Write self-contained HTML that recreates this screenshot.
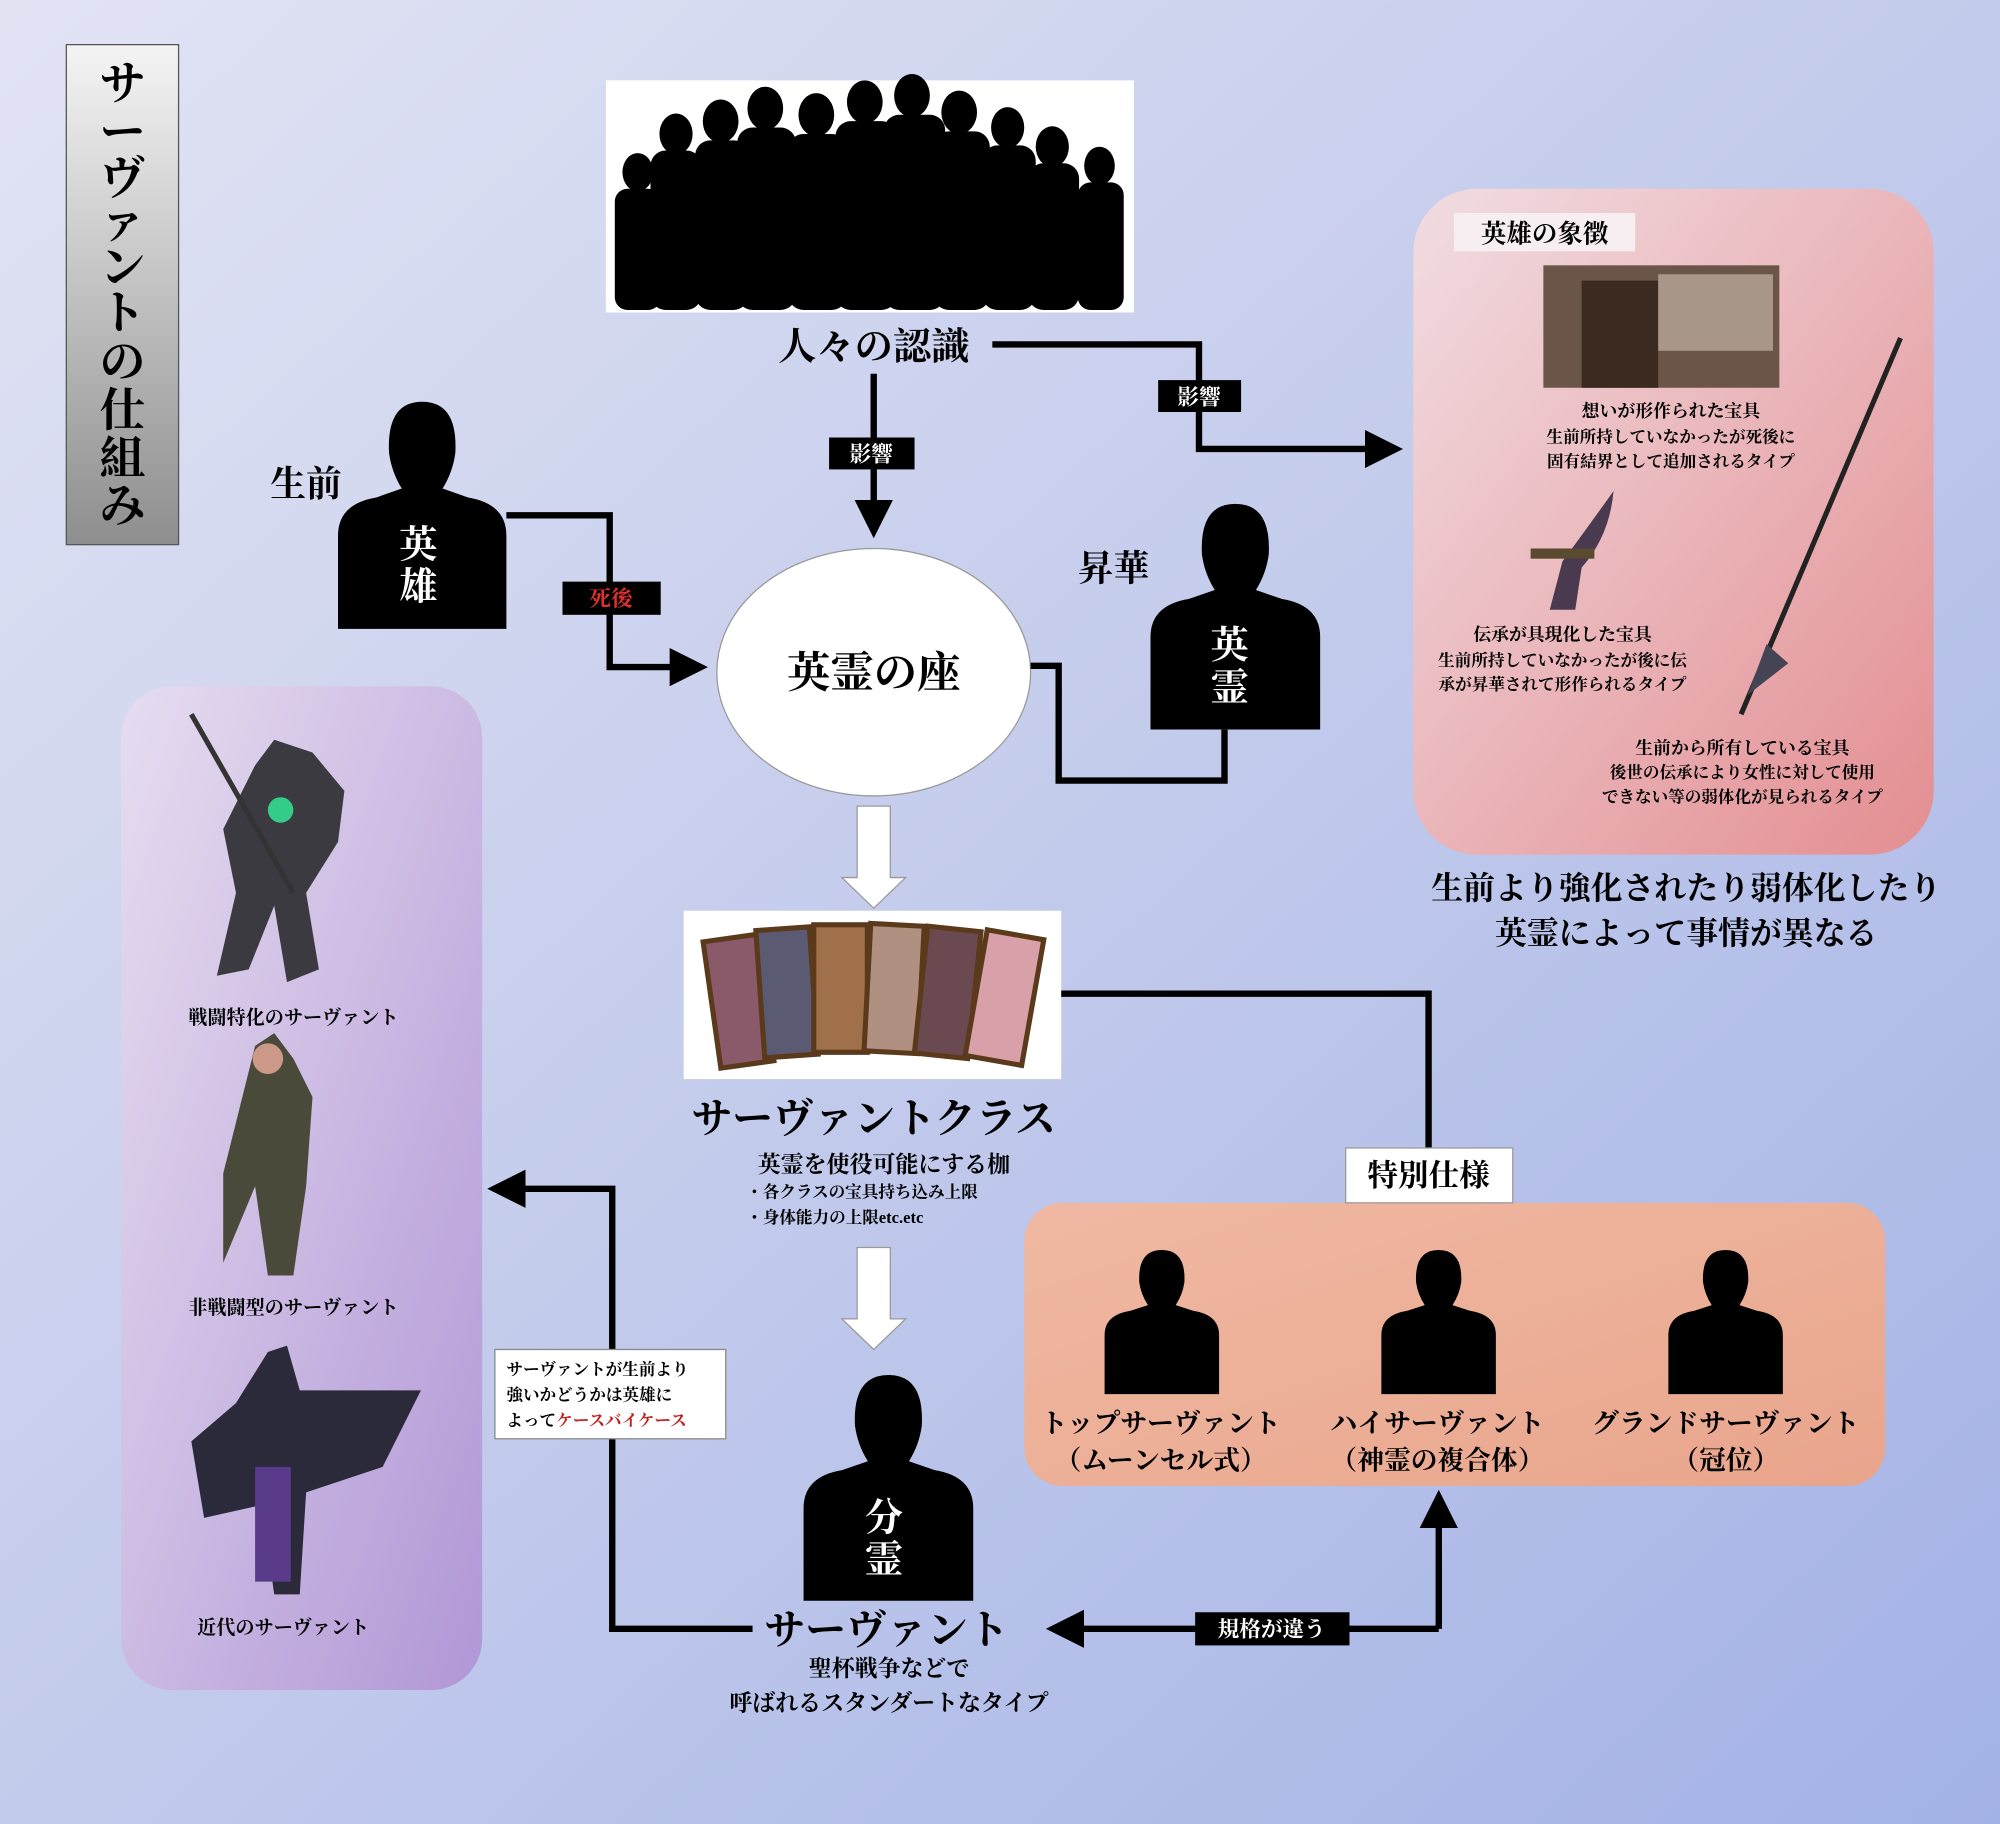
<!DOCTYPE html>
<html><head><meta charset="utf-8"><style>
html,body{margin:0;padding:0;width:2000px;height:1824px;overflow:hidden}
svg{display:block}
text{font-family:"Liberation Serif","Noto Serif CJK SC","Noto Sans CJK JP",serif;font-weight:bold}
</style></head><body>
<svg width="2000" height="1824" viewBox="0 0 1568 1430" xmlns="http://www.w3.org/2000/svg">
<defs>
<linearGradient id="bg" x1="0" y1="0" x2="1" y2="1">
<stop offset="0" stop-color="#e2e4f4"/><stop offset="0.5" stop-color="#c3cbec"/><stop offset="1" stop-color="#a3b2e6"/></linearGradient>
<linearGradient id="ttl" x1="0" y1="0" x2="0" y2="1"><stop offset="0" stop-color="#f4f4f4"/><stop offset="1" stop-color="#8e8e8e"/></linearGradient>
<linearGradient id="pink" x1="0" y1="0" x2="1" y2="1"><stop offset="0" stop-color="#f1dde2"/><stop offset="1" stop-color="#e38e91"/></linearGradient>
<linearGradient id="purp" x1="0" y1="0" x2="1" y2="1"><stop offset="0" stop-color="#e6ddf0"/><stop offset="1" stop-color="#b197d6"/></linearGradient>
<linearGradient id="org" x1="0" y1="0" x2="1" y2="1"><stop offset="0" stop-color="#f0b9a3"/><stop offset="1" stop-color="#e9a58c"/></linearGradient>
<marker id="ah" markerWidth="6" markerHeight="6" refX="4" refY="3" orient="auto"><path d="M0,0 L6,3 L0,6 Z" fill="#000"/></marker>
</defs>
<rect width="1568" height="1430" fill="url(#bg)"/>

<!-- title -->
<rect x="52" y="35" width="88" height="392" fill="url(#ttl)" stroke="#555" stroke-width="1"/>
<text x="96" y="80" font-size="36" text-anchor="middle" style="writing-mode:vertical-rl" transform="" >
</text>
<g font-size="36" text-anchor="middle">
<text x="96" y="78">サ</text><text x="96" y="116">ー</text><text x="96" y="152">ヴ</text><text x="96" y="187">ァ</text><text x="96" y="222">ン</text><text x="96" y="258">ト</text><text x="96" y="296">の</text><text x="96" y="334">仕</text><text x="96" y="372">組</text><text x="96" y="409">み</text>
</g>

<!-- crowd -->
<rect x="475" y="63" width="414" height="182" fill="#fff"/>
<g fill="#000">
<ellipse cx="500" cy="135" rx="12" ry="15"/><rect x="482" y="148" width="36" height="95" rx="10"/>
<ellipse cx="530" cy="105" rx="13" ry="16"/><rect x="510" y="118" width="40" height="125" rx="12"/>
<ellipse cx="565" cy="95" rx="14" ry="17"/><rect x="545" y="110" width="42" height="133" rx="12"/>
<ellipse cx="600" cy="85" rx="14" ry="17"/><rect x="578" y="100" width="46" height="143" rx="12"/>
<ellipse cx="640" cy="90" rx="14" ry="17"/><rect x="618" y="105" width="46" height="138" rx="12"/>
<ellipse cx="678" cy="80" rx="14" ry="17"/><rect x="655" y="95" width="48" height="148" rx="12"/>
<ellipse cx="715" cy="75" rx="14" ry="17"/><rect x="693" y="90" width="48" height="153" rx="12"/>
<ellipse cx="752" cy="88" rx="14" ry="17"/><rect x="732" y="103" width="44" height="140" rx="12"/>
<ellipse cx="790" cy="100" rx="13" ry="16"/><rect x="770" y="114" width="42" height="129" rx="12"/>
<ellipse cx="825" cy="115" rx="13" ry="16"/><rect x="806" y="128" width="40" height="115" rx="12"/>
<ellipse cx="862" cy="130" rx="12" ry="15"/><rect x="845" y="143" width="36" height="100" rx="10"/>
</g>
<text x="685" y="282" font-size="30" text-anchor="middle">人々の認識</text>

<!-- arrows from crowd -->
<line x1="685" y1="293" x2="685" y2="412" stroke="#000" stroke-width="5" marker-end="url(#ah)"/>
<rect x="650" y="343" width="67" height="25" fill="#000"/><text x="683" y="362" font-size="17" fill="#fff" text-anchor="middle">影響</text>
<polyline points="778,270 940,270 940,352 1090,352" fill="none" stroke="#000" stroke-width="5" marker-end="url(#ah)"/>
<rect x="908" y="298" width="65" height="25" fill="#000"/><text x="940" y="317" font-size="17" fill="#fff" text-anchor="middle">影響</text>

<!-- hero -->
<text x="240" y="389" font-size="28" text-anchor="middle">生前</text>
<path transform="translate(265,315)" d="M0,178 L0,105 Q0,80 30,75 L50,68 Q42,55 40,40 Q38,0 66,0 Q94,0 92,40 Q90,55 82,68 L102,75 Q132,80 132,105 L132,178 Z" fill="#000"/>
<text x="328" y="437" font-size="30" fill="#fff" text-anchor="middle">英</text>
<text x="328" y="470" font-size="30" fill="#fff" text-anchor="middle">雄</text>
<polyline points="397,404 478,404 478,523 545,523" fill="none" stroke="#000" stroke-width="5" marker-end="url(#ah)"/>
<rect x="441" y="456" width="77" height="26" fill="#000"/><text x="479" y="475" font-size="17" fill="#e0302a" text-anchor="middle">死後</text>

<!-- throne -->
<ellipse cx="685" cy="527" rx="123" ry="97" fill="#fff" stroke="#999" stroke-width="1"/>
<text x="685" y="539" font-size="34" text-anchor="middle">英霊の座</text>

<!-- heroic spirit -->
<text x="873" y="455" font-size="28" text-anchor="middle">昇華</text>
<path transform="translate(902,395) scale(1.0076,0.994)" d="M0,178 L0,105 Q0,80 30,75 L50,68 Q42,55 40,40 Q38,0 66,0 Q94,0 92,40 Q90,55 82,68 L102,75 Q132,80 132,105 L132,178 Z" fill="#000"/>
<text x="964" y="516" font-size="30" fill="#fff" text-anchor="middle">英</text>
<text x="964" y="549" font-size="30" fill="#fff" text-anchor="middle">霊</text>
<polyline points="808,522 830,522 830,612 960,612 960,572" fill="none" stroke="#000" stroke-width="5"/>

<!-- pink box -->
<rect x="1108" y="148" width="408" height="522" rx="50" fill="url(#pink)"/>
<rect x="1140" y="167" width="142" height="30" fill="#f6eef0"/>
<text x="1211" y="190" font-size="20" text-anchor="middle" font-family="Liberation Sans,Noto Sans CJK JP,sans-serif">英雄の象徴</text>
<rect x="1210" y="208" width="185" height="96" fill="#6b5548"/>
<rect x="1240" y="220" width="60" height="84" fill="#3b2a20"/><rect x="1300" y="215" width="90" height="60" fill="#a8968a"/>
<g font-size="14" text-anchor="middle">
<text x="1310" y="327">想いが形作られた宝具</text>
<text x="1310" y="347" font-size="13">生前所持していなかったが死後に</text>
<text x="1310" y="366" font-size="13">固有結界として追加されるタイプ</text>
<text x="1225" y="502">伝承が具現化した宝具</text>
<text x="1225" y="522" font-size="13">生前所持していなかったが後に伝</text>
<text x="1225" y="541" font-size="13">承が昇華されて形作られるタイプ</text>
<text x="1366" y="591">生前から所有している宝具</text>
<text x="1366" y="610" font-size="13">後世の伝承により女性に対して使用</text>
<text x="1366" y="629" font-size="13">できない等の弱体化が見られるタイプ</text>
</g>
<line x1="1490" y1="265" x2="1365" y2="560" stroke="#222" stroke-width="4"/>
<path d="M1385,505 L1370,545 L1402,520 Z" fill="#445"/>
<path d="M1265,385 Q1240,420 1225,440 L1215,478 L1235,478 L1240,445 Q1262,420 1265,385 Z" fill="#4a3a50"/>
<rect x="1200" y="430" width="50" height="8" fill="#5a4a30"/>
<text x="1322" y="705" font-size="25" text-anchor="middle">生前より強化されたり弱体化したり</text>
<text x="1322" y="740" font-size="25" text-anchor="middle">英霊によって事情が異なる</text>

<!-- hollow arrows -->
<path d="M672,632 L698,632 L698,688 L710,688 L685,712 L660,688 L672,688 Z" fill="#fff" stroke="#999" stroke-width="1"/>
<path d="M672,978 L698,978 L698,1034 L710,1034 L685,1058 L660,1034 L672,1034 Z" fill="#fff" stroke="#999" stroke-width="1"/>

<!-- cards -->
<rect x="536" y="714" width="296" height="132" fill="#fff"/>
<g stroke="#5a3a1a" stroke-width="4">
<rect x="558" y="735" width="42" height="100" fill="#8a5a6a" transform="rotate(-8 579 785)"/>
<rect x="596" y="728" width="42" height="100" fill="#5a5a72" transform="rotate(-4 617 778)"/>
<rect x="638" y="725" width="42" height="100" fill="#a0704a"/>
<rect x="680" y="725" width="42" height="100" fill="#b09080" transform="rotate(3 701 775)"/>
<rect x="722" y="728" width="42" height="100" fill="#6a4a50" transform="rotate(6 743 778)"/>
<rect x="765" y="732" width="45" height="100" fill="#d8a0a8" transform="rotate(10 787 782)"/>
</g>
<text x="685" y="888" font-size="32" text-anchor="middle">サーヴァントクラス</text>
<text x="693" y="919" font-size="18" text-anchor="middle">英霊を使役可能にする枷</text>
<text x="585" y="939" font-size="13">・各クラスの宝具持ち込み上限</text>
<text x="585" y="959" font-size="13">・身体能力の上限etc.etc</text>

<polyline points="832,779 1120,779 1120,900" fill="none" stroke="#000" stroke-width="5"/>

<!-- orange box -->
<rect x="803" y="943" width="675" height="222" rx="30" fill="url(#org)"/>
<rect x="1055" y="900" width="131" height="43" fill="#fff" stroke="#999" stroke-width="1"/>
<text x="1120" y="930" font-size="24" text-anchor="middle">特別仕様</text>
<g fill="#000">
<path transform="translate(866,980) scale(0.68,0.635)" d="M0,178 L0,105 Q0,80 30,75 L50,68 Q42,55 40,40 Q38,0 66,0 Q94,0 92,40 Q90,55 82,68 L102,75 Q132,80 132,105 L132,178 Z"/>
<path transform="translate(1083,980) scale(0.68,0.635)" d="M0,178 L0,105 Q0,80 30,75 L50,68 Q42,55 40,40 Q38,0 66,0 Q94,0 92,40 Q90,55 82,68 L102,75 Q132,80 132,105 L132,178 Z"/>
<path transform="translate(1308,980) scale(0.68,0.635)" d="M0,178 L0,105 Q0,80 30,75 L50,68 Q42,55 40,40 Q38,0 66,0 Q94,0 92,40 Q90,55 82,68 L102,75 Q132,80 132,105 L132,178 Z"/>
</g>
<g font-size="21" text-anchor="middle">
<text x="910" y="1123">トップサーヴァント</text><text x="910" y="1152">（ムーンセル式）</text>
<text x="1127" y="1123">ハイサーヴァント</text><text x="1127" y="1152">（神霊の複合体）</text>
<text x="1353" y="1123">グランドサーヴァント</text><text x="1353" y="1152">（冠位）</text>
</g>

<!-- servant -->
<path transform="translate(630,1078) scale(1.0076,0.994)" d="M0,178 L0,105 Q0,80 30,75 L50,68 Q42,55 40,40 Q38,0 66,0 Q94,0 92,40 Q90,55 82,68 L102,75 Q132,80 132,105 L132,178 Z" fill="#000"/>
<text x="693" y="1200" font-size="30" fill="#fff" text-anchor="middle">分</text>
<text x="693" y="1233" font-size="30" fill="#fff" text-anchor="middle">霊</text>
<text x="695" y="1289" font-size="32" text-anchor="middle">サーヴァント</text>
<text x="697" y="1314" font-size="18" text-anchor="middle">聖杯戦争などで</text>
<text x="697" y="1341" font-size="18" text-anchor="middle">呼ばれるスタンダートなタイプ</text>

<polyline points="1128,1277 830,1277" fill="none" stroke="#000" stroke-width="5" marker-end="url(#ah)"/>
<polyline points="1128,1277 1128,1178" fill="none" stroke="#000" stroke-width="5" marker-end="url(#ah)"/>
<rect x="937" y="1264" width="121" height="26" fill="#000"/><text x="997" y="1283" font-size="17" fill="#fff" text-anchor="middle">規格が違う</text>

<polyline points="590,1277 480,1277 480,932 392,932" fill="none" stroke="#000" stroke-width="5" marker-end="url(#ah)"/>
<rect x="388" y="1058" width="181" height="70" fill="#fff" stroke="#888" stroke-width="1"/>
<g font-size="13"><text x="397" y="1078">サーヴァントが生前より</text><text x="397" y="1098">強いかどうかは英雄に</text><text x="397" y="1118">よって<tspan fill="#c02020">ケースバイケース</tspan></text></g>

<!-- left purple box -->
<rect x="95" y="538" width="283" height="787" rx="40" fill="url(#purp)"/>
<g>
<path d="M200,600 L215,580 L245,590 L270,620 L265,660 L240,700 L250,760 L225,770 L215,710 L195,760 L170,765 L185,700 L175,650 Z" fill="#3a3a40"/>
<line x1="150" y1="560" x2="230" y2="700" stroke="#333" stroke-width="4"/>
<circle cx="220" cy="635" r="10" fill="#3c8"/>
<path d="M200,820 L215,810 L230,830 L245,860 L240,930 L230,1000 L210,1000 L200,930 L175,990 L175,920 L190,860 Z" fill="#4a4a3a"/>
<circle cx="210" cy="830" r="12" fill="#c98"/>
<path d="M210,1060 L225,1055 L235,1090 L330,1090 L300,1150 L240,1170 L235,1250 L215,1250 L205,1180 L160,1190 L150,1130 L185,1100 Z" fill="#2a2a3a"/>
<rect x="200" y="1150" width="28" height="90" fill="#5a3a8a"/>
</g>
<g font-size="15" text-anchor="middle">
<text x="230" y="803">戦闘特化のサーヴァント</text>
<text x="230" y="1030">非戦闘型のサーヴァント</text>
<text x="222" y="1281">近代のサーヴァント</text>
</g>
</svg>
</body></html>
